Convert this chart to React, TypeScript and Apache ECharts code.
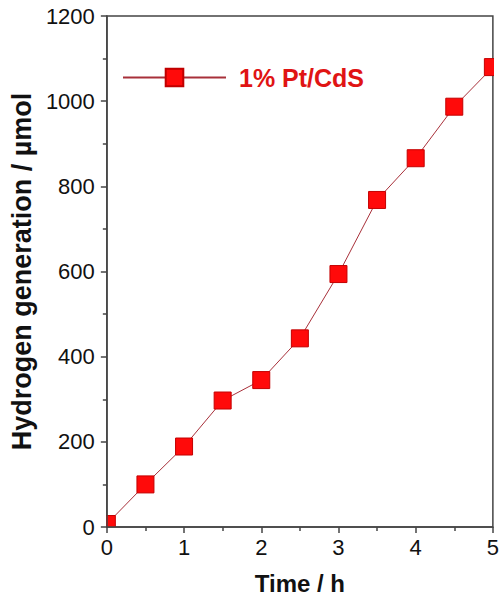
import React, { useEffect, useRef } from "react";
import * as echarts from "echarts";

const times = [0, 0.5, 1, 1.5, 2, 2.5, 3, 3.5, 4, 4.5, 5];
const hydrogen = [7, 100, 189, 297, 345, 443, 594, 768, 866, 987, 1080];
const seriesName = "1% Pt/CdS";
const xAxisTitle = "Time / h";
const yAxisTitle = "Hydrogen generation / µmol";

export default function App() {
  const ref = useRef<HTMLDivElement>(null);
  useEffect(() => {
    if (!ref.current) return;
    const chart = echarts.init(ref.current, null, { renderer: "svg" });
    const pts = times.map((t, i) => [t, hydrogen[i]]);
    const font = "Liberation Sans, Arial, sans-serif";
    const axisColor = "#444";
    chart.setOption({
      animation: false,
      backgroundColor: "#fff",
      grid: {
        left: 106,
        right: 7,
        top: 16,
        bottom: 77,
        show: true,
        borderColor: axisColor,
        borderWidth: 1.5,
        backgroundColor: "transparent",
      },
      legend: {
        left: 117,
        top: 60,
        itemWidth: 103,
        itemHeight: 22,
        data: [seriesName],
        textStyle: {
          fontFamily: font,
          fontSize: 25,
          fontWeight: "bold",
          color: "#e01414",
          padding: [0, 0, 0, 8],
        },
      },
      xAxis: {
        type: "value",
        min: 0,
        max: 5,
        interval: 1,
        name: xAxisTitle,
        nameLocation: "middle",
        nameGap: 44,
        nameTextStyle: { fontFamily: font, fontSize: 24, fontWeight: "bold", color: "#111" },
        axisLine: { show: true, lineStyle: { color: axisColor, width: 1.5 } },
        axisTick: { show: true, inside: false, length: 6, lineStyle: { color: axisColor, width: 1.5 } },
        minorTick: { show: true, splitNumber: 2, length: 4, lineStyle: { color: axisColor, width: 1.5 } },
        splitLine: { show: false },
        axisLabel: { fontFamily: font, fontSize: 22, color: "#111", margin: 9 },
        z: 10,
      },
      yAxis: {
        type: "value",
        min: 0,
        max: 1200,
        interval: 200,
        name: yAxisTitle,
        nameLocation: "middle",
        nameGap: 70,
        nameTextStyle: { fontFamily: font, fontSize: 27, fontWeight: "bold", color: "#111" },
        axisLine: { show: true, lineStyle: { color: axisColor, width: 1.5 } },
        axisTick: { show: true, inside: false, length: 6, lineStyle: { color: axisColor, width: 1.5 } },
        minorTick: { show: true, splitNumber: 2, length: 4, lineStyle: { color: axisColor, width: 1.5 } },
        splitLine: { show: false },
        axisLabel: {
          fontFamily: font,
          fontSize: 22,
          color: "#111",
          margin: 12,
          formatter: (v: number) => String(v),
        },
        z: 10,
      },
      series: [
        {
          name: seriesName,
          type: "line",
          data: pts,
          symbol: "rect",
          symbolSize: 17,
          showSymbol: false,
          lineStyle: { color: "#a8303a", width: 1 },
          itemStyle: { color: "#ff0a0a", borderColor: "#c00000", borderWidth: 1 },
          clip: true,
          z: 2,
        },
        {
          name: "markers",
          type: "custom",
          data: pts,
          clip: true,
          z: 3,
          renderItem: (_params: any, api: any) => {
            const p = api.coord([api.value(0), api.value(1)]);
            const s = 17;
            return {
              type: "rect",
              shape: { x: p[0] - s / 2, y: p[1] - s / 2, width: s, height: s },
              style: { fill: "#ff0a0a", stroke: "#c40000", lineWidth: 1 },
            };
          },
        },
      ],
    });
    return () => chart.dispose();
  }, []);
  return (
    <div
      ref={ref}
      style={{ position: "absolute", left: 0, top: 0, width: 502, height: 604, background: "#fff" }}
    />
  );
}
